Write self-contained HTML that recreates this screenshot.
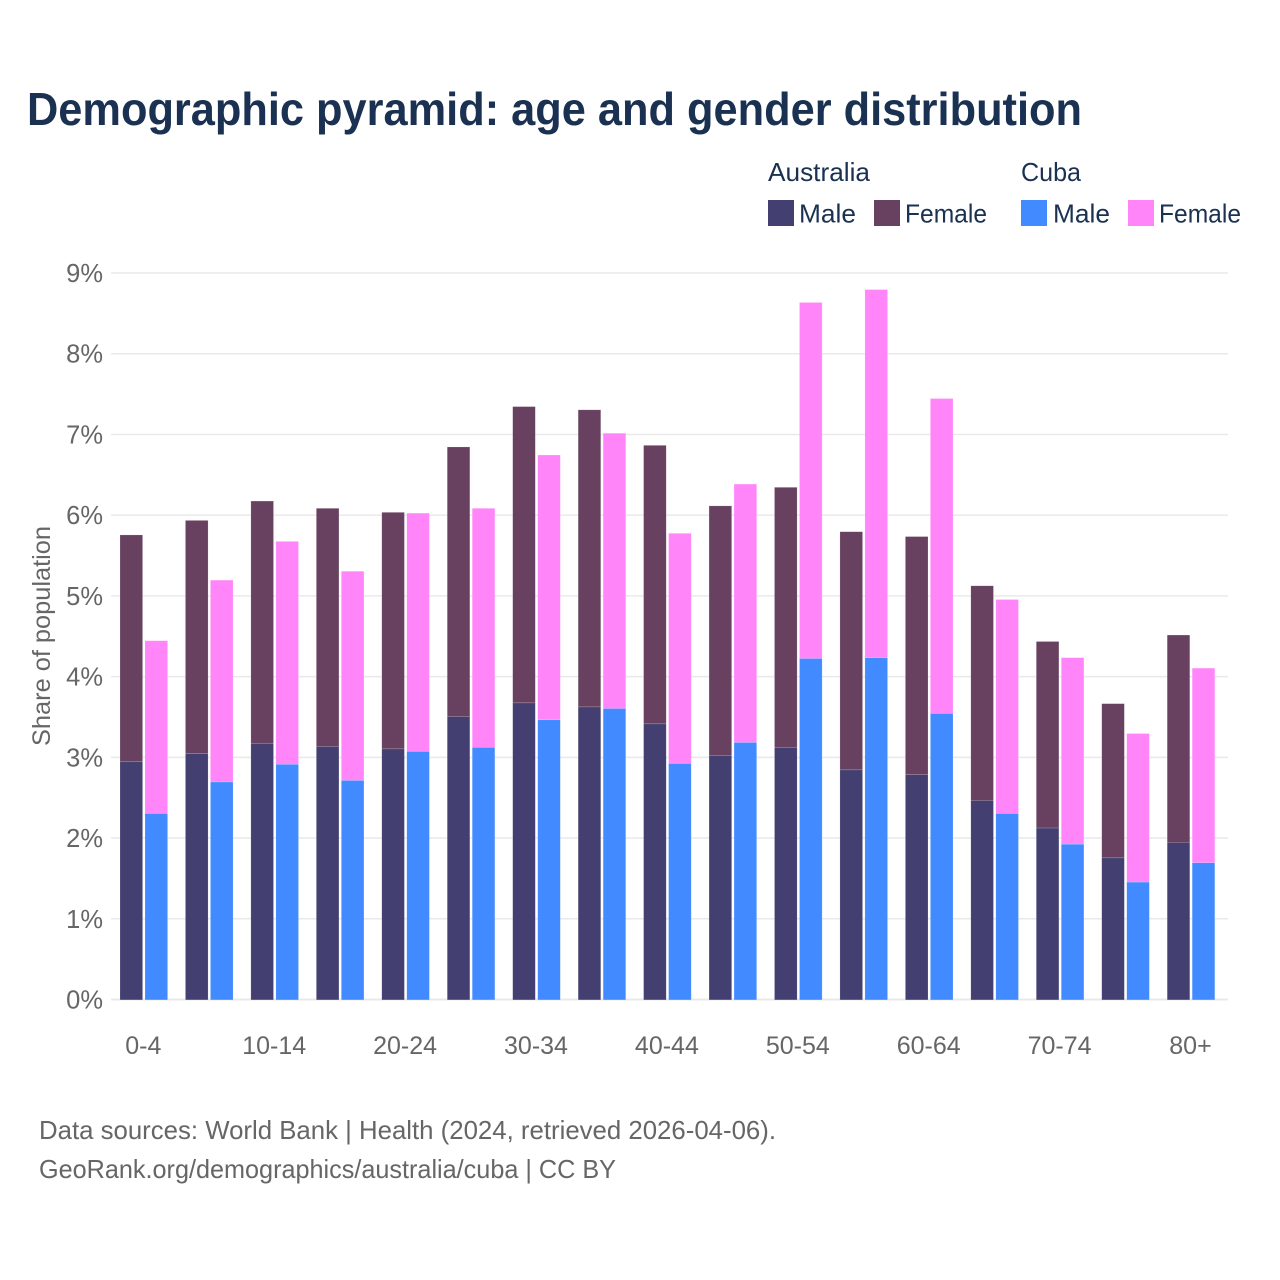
<!DOCTYPE html>
<html lang="en">
<head>
<meta charset="utf-8">
<title>Demographic pyramid: age and gender distribution</title>
<style>
html,body{margin:0;padding:0;background:#fff;}
svg{display:block;font-family:"Liberation Sans",sans-serif;}
</style>
</head>
<body>
<svg id="chart" xmlns="http://www.w3.org/2000/svg" width="1280" height="1280" viewBox="0 0 1280 1280">
  <rect width="1280" height="1280" fill="#fff"/>
  <text x="27" y="125" font-size="46" font-weight="700" fill="#1a3152" textLength="1055" lengthAdjust="spacingAndGlyphs">Demographic pyramid: age and gender distribution</text>

  <g font-size="26" fill="#1a3152">
    <text x="768" y="181" textLength="102" lengthAdjust="spacingAndGlyphs">Australia</text>
    <text x="1021" y="181" textLength="60" lengthAdjust="spacingAndGlyphs">Cuba</text>
    <rect x="768" y="200" width="26" height="26" fill="#433f70"/>
    <text x="799" y="222.5" textLength="57" lengthAdjust="spacingAndGlyphs">Male</text>
    <rect x="874" y="200" width="26" height="26" fill="#684160"/>
    <text x="905" y="222.5" textLength="82" lengthAdjust="spacingAndGlyphs">Female</text>
    <rect x="1021" y="200" width="26" height="26" fill="#418aff"/>
    <text x="1053" y="222.5" textLength="57" lengthAdjust="spacingAndGlyphs">Male</text>
    <rect x="1128" y="200" width="26" height="26" fill="#ff85f9"/>
    <text x="1159" y="222.5" textLength="82" lengthAdjust="spacingAndGlyphs">Female</text>
  </g>

  <g id="grid"></g>
  <g id="bars" transform="translate(0,0.4)"></g>
  <g id="yticks"></g>
  <g id="xticks"></g>

  <text transform="translate(50,636) rotate(-90)" text-anchor="middle" font-size="25" fill="#666" textLength="220" lengthAdjust="spacingAndGlyphs">Share of population</text>

  <text x="39" y="1139" font-size="26" fill="#666" textLength="737" lengthAdjust="spacingAndGlyphs">Data sources: World Bank | Health (2024, retrieved 2026-04-06).</text>
  <text x="39" y="1178" font-size="26" fill="#666" textLength="577" lengthAdjust="spacingAndGlyphs">GeoRank.org/demographics/australia/cuba | CC BY</text>
</svg>
<script>
const categories = ["0-4","5-9","10-14","15-19","20-24","25-29","30-34","35-39","40-44","45-49","50-54","55-59","60-64","65-69","70-74","75-79","80+"];
const australiaMale = [2.95,3.05,3.18,3.14,3.11,3.51,3.68,3.63,3.42,3.03,3.13,2.85,2.79,2.47,2.13,1.76,1.95];
const australiaFemale = [2.81,2.89,3.00,2.95,2.93,3.34,3.67,3.68,3.45,3.09,3.22,2.95,2.95,2.66,2.31,1.91,2.57];
const cubaMale = [2.31,2.70,2.92,2.72,3.08,3.13,3.47,3.61,2.93,3.19,4.23,4.24,3.55,2.31,1.93,1.46,1.70];
const cubaFemale = [2.14,2.50,2.76,2.59,2.95,2.96,3.28,3.41,2.85,3.20,4.41,4.56,3.90,2.65,2.31,1.84,2.41];
const yTickValues = [0,1,2,3,4,5,6,7,8,9];

const NS = "http://www.w3.org/2000/svg";
const plotLeft = 111, plotRight = 1228;
const yZero = 999.5, yPerUnit = 80.72;
const firstCenter = 143.8, groupStep = 65.45;
const barWidth = 22.6, barOffset = 25;

function yScale(v) { return yZero - v * yPerUnit; }
function xScale(i) { return firstCenter + i * groupStep; }

const grid = document.getElementById("grid");
const bars = document.getElementById("bars");
const yticks = document.getElementById("yticks");
const xticks = document.getElementById("xticks");

function makeBar(x, bottomVal, val, fill, name) {
  const r = document.createElementNS(NS, "rect");
  r.setAttribute("x", x);
  r.setAttribute("y", yScale(bottomVal + val));
  r.setAttribute("width", barWidth);
  r.setAttribute("height", val * yPerUnit);
  r.setAttribute("fill", fill);
  r.setAttribute("stroke", "#fff");
  r.setAttribute("stroke-opacity", "0.3");
  r.setAttribute("stroke-width", "0.5");
  
  
  bars.appendChild(r);
}

yTickValues.forEach(function (t) {
  const l = document.createElementNS(NS, "line");
  l.setAttribute("x1", plotLeft);
  l.setAttribute("x2", plotRight);
  l.setAttribute("y1", yScale(t));
  l.setAttribute("y2", yScale(t));
  l.setAttribute("stroke", "#e9e9e9");
  l.setAttribute("stroke-width", t === 0 ? 2 : 1.5);
  
  
  grid.appendChild(l);

  const txt = document.createElementNS(NS, "text");
  txt.setAttribute("x", 103);
  txt.setAttribute("y", yScale(t) + 9);
  txt.setAttribute("text-anchor", "end");
  txt.setAttribute("font-size", "25.5");
  txt.setAttribute("fill", "#666");
  
  
  txt.textContent = t + "%";
  yticks.appendChild(txt);
});

categories.forEach(function (c, i) {
  const cx = xScale(i);
  const ax = cx - barOffset / 2 - barWidth / 2;
  const bx = cx + barOffset / 2 - barWidth / 2;
  makeBar(ax, 0, australiaMale[i], "#433f70", "bar-australia-male");
  makeBar(ax, australiaMale[i], australiaFemale[i], "#684160", "bar-australia-female");
  makeBar(bx, 0, cubaMale[i], "#418aff", "bar-cuba-male");
  makeBar(bx, cubaMale[i], cubaFemale[i], "#ff85f9", "bar-cuba-female");

  if (i % 2 === 0) {
    const txt = document.createElementNS(NS, "text");
    txt.setAttribute("x", cx - 0.5);
    txt.setAttribute("y", 1054);
    txt.setAttribute("text-anchor", "middle");
    txt.setAttribute("font-size", "25");
    txt.setAttribute("fill", "#666");
    
    
    txt.textContent = c;
    xticks.appendChild(txt);
  }
});
</script>
</body>
</html>
